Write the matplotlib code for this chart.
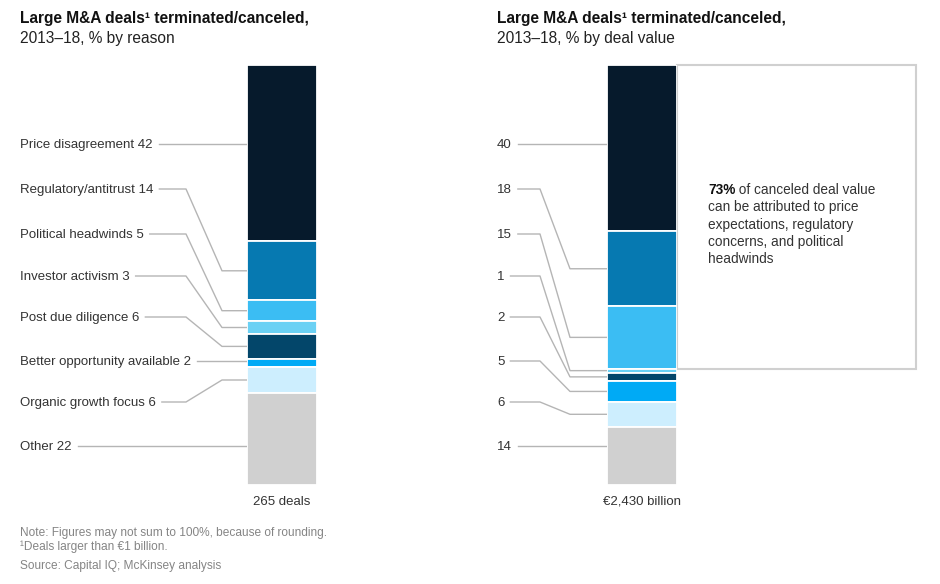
import numpy as np
import matplotlib
matplotlib.use("Agg")
import matplotlib.pyplot as plt
from matplotlib.patches import Rectangle

plt.rcParams['font.family'] = ['Liberation Sans', 'DejaVu Sans']

# data
reasons = ["Price disagreement", "Regulatory/antitrust", "Political headwinds",
           "Investor activism", "Post due diligence", "Better opportunity available",
           "Organic growth focus", "Other"]
share_deals = [42, 14, 5, 3, 6, 2, 6, 22]
share_value = [40, 18, 15, 1, 2, 5, 6, 14]
colors = ["#061a2c", "#0679b1", "#3bbdf3", "#6bd1f4", "#03466a", "#00aaf5", "#cdeefe", "#d0d0d0"]
totals = ["265 deals", "€2,430 billion"]
callout_share = 73

W, H = 940, 584
fig = plt.figure(figsize=(W / 100, H / 100), dpi=100)
ov = fig.add_axes([0, 0, 1, 1])
ov.set_xlim(0, W)
ov.set_ylim(H, 0)
ov.axis("off")

bar_top, bar_bot = 65, 485
label_y = [144, 189, 234, 276, 317, 361, 402, 446]
line_col = "#b5b5b5"
txt_col = "#333333"


def to_px(ax, y):
    disp = ax.transData.transform((0, y))
    return ov.transData.inverted().transform(disp)[1]


def draw_panel(x_bar, values, labels, x_label, elbow1, elbow2, title2, total):
    bx = fig.add_axes([x_bar / W, (H - bar_bot) / H, 70 / W, (bar_bot - bar_top) / H])
    bottoms = np.concatenate([[0], np.cumsum(values)[:-1]])
    bx.bar(0, values, bottom=bottoms, width=1, color=colors, edgecolor="white", linewidth=1.3)
    bx.set_xlim(-0.5, 0.5)
    bx.set_ylim(sum(values), 0)
    bx.axis("off")

    r = fig.canvas.get_renderer()
    for lab, ly, b, v in zip(labels, label_y, bottoms, values):
        t = ov.text(x_label, ly + 1, lab, fontsize=9.5, color=txt_col, va="center", ha="left")
        bb = t.get_window_extent(r)
        x0 = ov.transData.inverted().transform((bb.x1, 0))[0] + 6
        top_px, bot_px = to_px(bx, b), to_px(bx, b + v)
        if top_px + 2 <= ly <= bot_px - 2:
            ov.plot([x0, x_bar], [ly, ly], color=line_col, lw=1)
        else:
            ty = to_px(bx, b + v / 2)
            ov.plot([x0, elbow1, elbow2, x_bar], [ly, ly, ty, ty], color=line_col, lw=1)

    xl = x_label
    ov.text(xl, 18, "Large M&A deals¹ terminated/canceled,", fontsize=11.2, fontweight="bold",
            color="#111111", va="center")
    ov.text(xl, 38, title2, fontsize=11.2, color="#222222", va="center")
    ov.text(x_bar + 35, 502, total, fontsize=9.5, color=txt_col, ha="center", va="center")
    return bx


draw_panel(247, share_deals,
           [f"{n} {v}" for n, v in zip(reasons, share_deals)],
           20, 186, 222, "2013–18, % by reason", totals[0])
bx2 = draw_panel(607, share_value, [str(v) for v in share_value],
                 497, 540, 570, "2013–18, % by deal value", totals[1])

# callout box next to the right bar
box_bot = to_px(bx2, callout_share)
ov.add_patch(Rectangle((677, bar_top), 916 - 677, box_bot - bar_top, fill=False,
                       edgecolor="#d0d0d0", lw=1.5))
tb = ov.text(708, 190, f"{callout_share}%", fontsize=9.8, fontweight="bold", color="#111111",
             va="center")
ov.annotate(" of canceled deal value", xy=(1, 0.5), xycoords=tb, va="center", ha="left",
            fontsize=9.8, color=txt_col)
for i, line in enumerate(["can be attributed to price", "expectations, regulatory",
                          "concerns, and political", "headwinds"]):
    ov.text(708, 190 + 17.3 * (i + 1), line, fontsize=9.8, color=txt_col, va="center")

# notes
note_col = "#858585"
ov.text(20, 533, "Note: Figures may not sum to 100%, because of rounding.", fontsize=8.6,
        color=note_col, va="center")
ov.text(20, 547, "¹Deals larger than €1 billion.", fontsize=8.6, color=note_col, va="center")
ov.text(20, 566, "Source: Capital IQ; McKinsey analysis", fontsize=8.6, color=note_col, va="center")

fig.savefig("out.png", dpi=100)
